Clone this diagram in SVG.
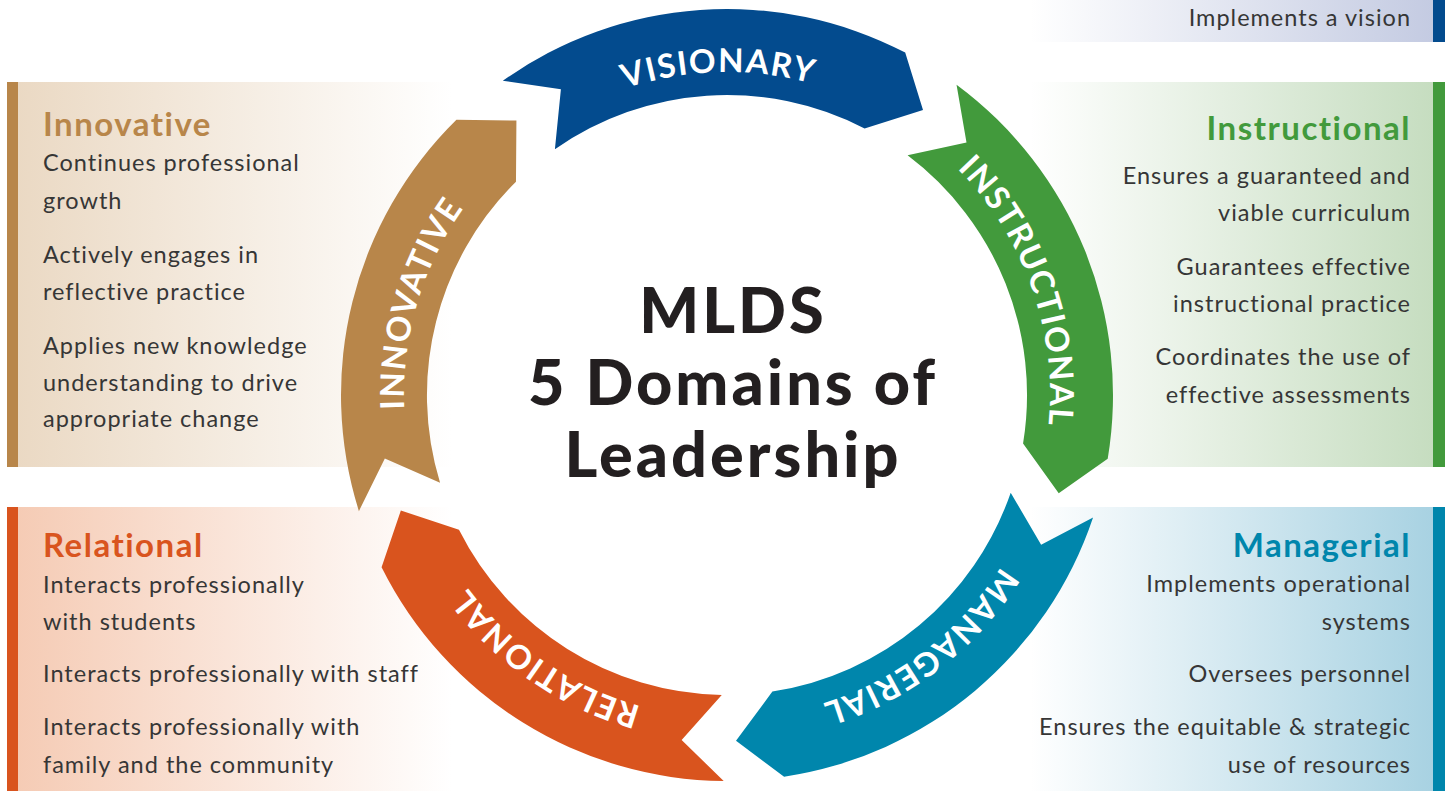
<svg xmlns="http://www.w3.org/2000/svg" xmlns:xlink="http://www.w3.org/1999/xlink" width="1445" height="791" viewBox="0 0 1445 791">
<style>
.body{font-family:Lato,"Open Sans","Liberation Sans",sans-serif;font-size:23.5px;fill:#363636;letter-spacing:1px}
.head{font-family:Lato,"Open Sans","Liberation Sans",sans-serif;font-size:33px;font-weight:700;letter-spacing:1.5px}
.band{font-family:Lato,"Open Sans","Liberation Sans",sans-serif;font-size:33px;font-weight:700;fill:#fff;letter-spacing:1.5px}
.title{font-family:Lato,"Open Sans","Liberation Sans",sans-serif;font-size:63px;font-weight:900;fill:#231f20;text-anchor:middle;letter-spacing:3px}
.r{text-anchor:end}
</style>
<defs>
<linearGradient id="gInn" x1="0" y1="0" x2="1" y2="0"><stop offset="0" stop-color="#EAD8C2"/><stop offset="1" stop-color="#FFFFFF"/></linearGradient>
<linearGradient id="gRel" x1="0" y1="0" x2="1" y2="0"><stop offset="0" stop-color="#F5CAB3"/><stop offset="1" stop-color="#FFFFFF"/></linearGradient>
<linearGradient id="gIns" x1="0" y1="0" x2="1" y2="0"><stop offset="0" stop-color="#FFFFFF"/><stop offset="1" stop-color="#C6DDC0"/></linearGradient>
<linearGradient id="gMan" x1="0" y1="0" x2="1" y2="0"><stop offset="0" stop-color="#FFFFFF"/><stop offset="1" stop-color="#A8D2E2"/></linearGradient>
<linearGradient id="gVis" x1="0" y1="0" x2="1" y2="0"><stop offset="0" stop-color="#FFFFFF"/><stop offset="1" stop-color="#C4CBE2"/></linearGradient>
<path id="seg" d="M502.8,80.8 L560.9,89.2 L554.9,149.2 A300,300 0 0 1 864.6,128.4 L923,109.9 L905.2,52.6 A386,386 0 0 0 502.8,80.8 Z"/>
<path id="tp" d="M447.3,233.5 A323,323 0 0 1 1006.7,233.5"/>
</defs>

<g id="panel-visionary">
<rect x="1030" y="0" width="403" height="42" fill="url(#gVis)"/>
<rect x="1433" y="0" width="12" height="42" fill="#034B8E"/>
<text class="body r" x="1411" y="26">Implements a vision</text>
</g>

<g id="panel-innovative">
<rect x="7" y="82" width="445" height="385" fill="url(#gInn)"/>
<rect x="7" y="82" width="11" height="385" fill="#B8864A"/>
<text class="head" x="43" y="136" fill="#B8864A">Innovative</text>
<text class="body" x="43" y="171">Continues professional</text>
<text class="body" x="43" y="209">growth</text>
<text class="body" x="43" y="263">Actively engages in</text>
<text class="body" x="43" y="300">reflective practice</text>
<text class="body" x="43" y="354">Applies new knowledge</text>
<text class="body" x="43" y="391">understanding to drive</text>
<text class="body" x="43" y="427">appropriate change</text>
</g>

<g id="panel-instructional">
<rect x="1030" y="82" width="403" height="385" fill="url(#gIns)"/>
<rect x="1433" y="82" width="12" height="385" fill="#429A3C"/>
<text class="head r" x="1411" y="140" fill="#429A3C">Instructional</text>
<text class="body r" x="1411" y="184">Ensures a guaranteed and</text>
<text class="body r" x="1411" y="221">viable curriculum</text>
<text class="body r" x="1411" y="275">Guarantees effective</text>
<text class="body r" x="1411" y="312">instructional practice</text>
<text class="body r" x="1411" y="365">Coordinates the use of</text>
<text class="body r" x="1411" y="403">effective assessments</text>
</g>

<g id="panel-relational">
<rect x="7" y="507" width="445" height="284" fill="url(#gRel)"/>
<rect x="7" y="507" width="11" height="284" fill="#D9541E"/>
<text class="head" x="43" y="557" fill="#D9541E">Relational</text>
<text class="body" x="43" y="593">Interacts professionally</text>
<text class="body" x="43" y="630">with students</text>
<text class="body" x="43" y="682">Interacts professionally with staff</text>
<text class="body" x="43" y="735">Interacts professionally with</text>
<text class="body" x="43" y="773">family and the community</text>
</g>

<g id="panel-managerial">
<rect x="1030" y="507" width="403" height="284" fill="url(#gMan)"/>
<rect x="1433" y="507" width="12" height="284" fill="#0086AC"/>
<text class="head r" x="1411" y="557" fill="#0086AC">Managerial</text>
<text class="body r" x="1411" y="592">Implements operational</text>
<text class="body r" x="1411" y="630">systems</text>
<text class="body r" x="1411" y="682">Oversees personnel</text>
<text class="body r" x="1411" y="735">Ensures the equitable &amp; strategic</text>
<text class="body r" x="1411" y="773">use of resources</text>
</g>

<g id="connectors"/>

<g id="visionary" transform="rotate(0 727 395)">
<use xlink:href="#seg" href="#seg" fill="#034B8E"/>
<text class="band" transform="rotate(-1.5 727 395)"><textPath xlink:href="#tp" href="#tp" startOffset="50%" text-anchor="middle">VISIONARY</textPath></text>
</g>
<g id="instructional" transform="rotate(72 727 395)">
<use xlink:href="#seg" href="#seg" fill="#429A3C"/>
<text class="band" transform="rotate(-1.5 727 395)"><textPath xlink:href="#tp" href="#tp" startOffset="50%" text-anchor="middle">INSTRUCTIONAL</textPath></text>
</g>
<g id="managerial" transform="rotate(144 727 395)">
<use xlink:href="#seg" href="#seg" fill="#0086AC"/>
<text class="band" transform="rotate(-1.5 727 395)"><textPath xlink:href="#tp" href="#tp" startOffset="50%" text-anchor="middle">MANAGERIAL</textPath></text>
</g>
<g id="relational" transform="rotate(216 727 395)">
<use xlink:href="#seg" href="#seg" fill="#D9541E"/>
<text class="band" transform="rotate(-1.5 727 395)"><textPath xlink:href="#tp" href="#tp" startOffset="50%" text-anchor="middle">RELATIONAL</textPath></text>
</g>
<g id="innovative" transform="rotate(288 727 395)">
<use xlink:href="#seg" href="#seg" fill="#B8864A"/>
<text class="band" transform="rotate(-1.5 727 395)"><textPath xlink:href="#tp" href="#tp" startOffset="50%" text-anchor="middle">INNOVATIVE</textPath></text>
</g>

<g id="title">
<text class="title" x="733" y="333">MLDS</text>
<text class="title" x="733" y="405">5 Domains of</text>
<text class="title" x="733" y="477">Leadership</text>
</g>
</svg>
